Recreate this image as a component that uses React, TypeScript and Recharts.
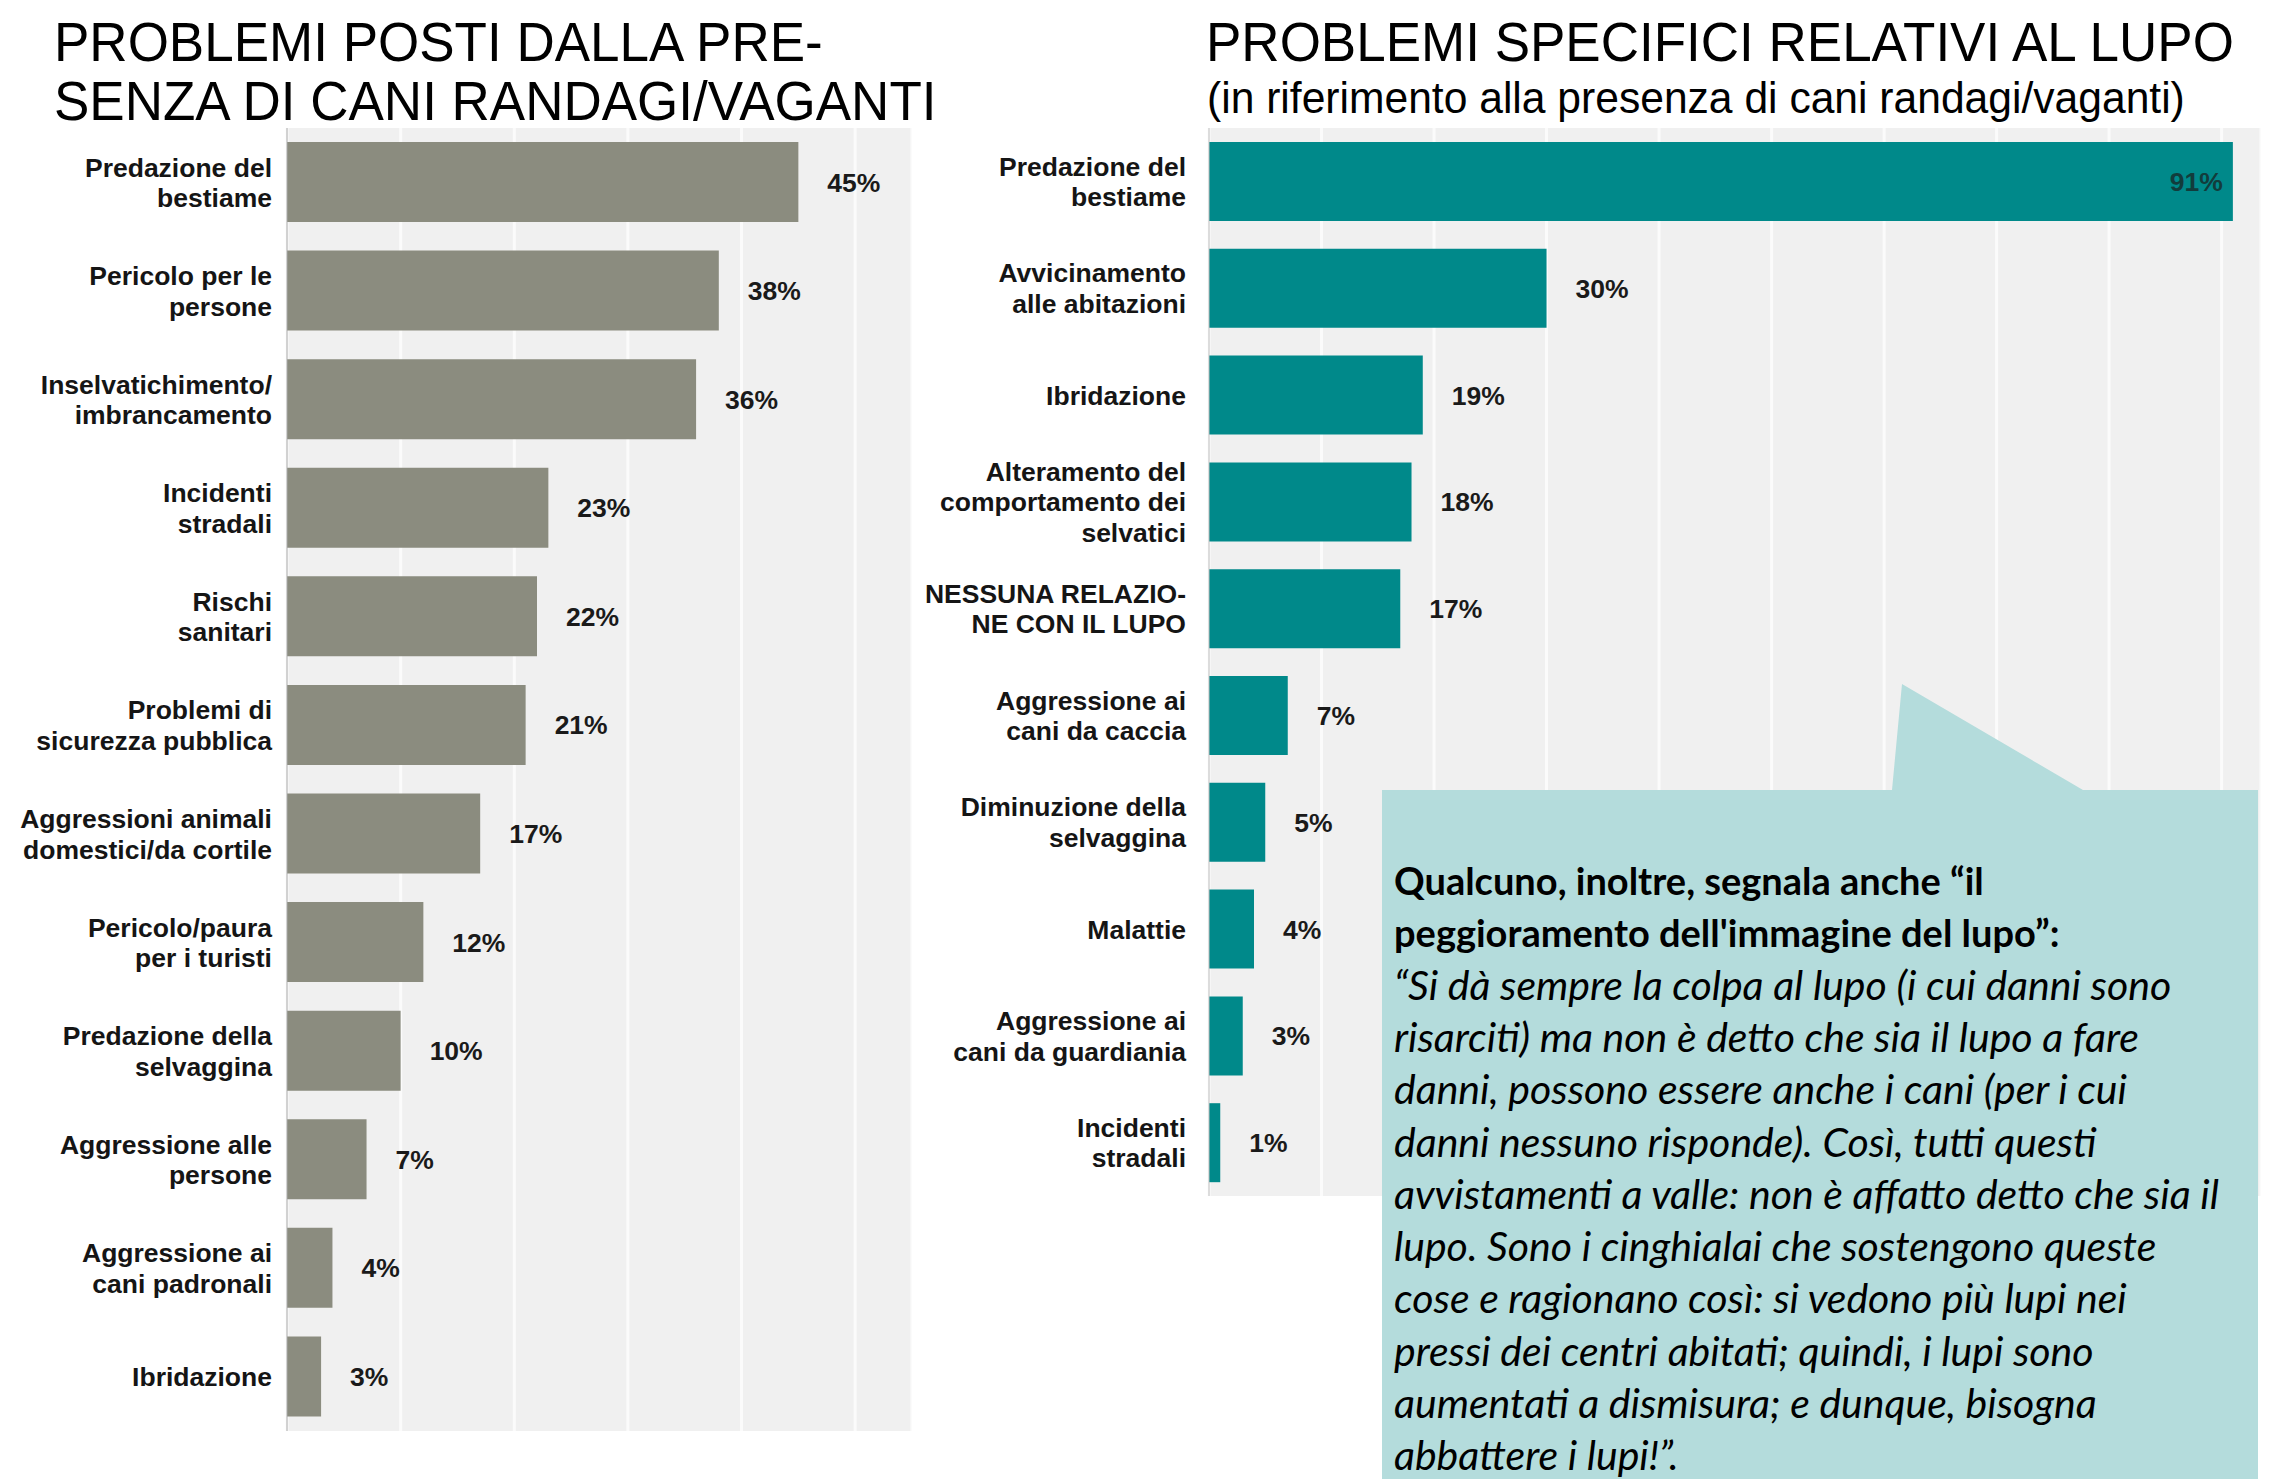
import { BarChart, Bar, XAxis, YAxis, CartesianGrid, LabelList } from 'recharts';

// left chart: problems caused by stray dogs
const leftCategories = [
  'Predazione del\nbestiame',
  'Pericolo per le\npersone',
  'Inselvatichimento/\nimbrancamento',
  'Incidenti\nstradali',
  'Rischi\nsanitari',
  'Problemi di\nsicurezza pubblica',
  'Aggressioni animali\ndomestici/da cortile',
  'Pericolo/paura\nper i turisti',
  'Predazione della\nselvaggina',
  'Aggressione alle\npersone',
  'Aggressione ai\ncani padronali',
  'Ibridazione',
];
const leftValues = [45, 38, 36, 23, 22, 21, 17, 12, 10, 7, 4, 3];
const leftTicks = [10, 20, 30, 40, 50];

// right chart: wolf-specific problems
const rightCategories = [
  'Predazione del\nbestiame',
  'Avvicinamento\nalle abitazioni',
  'Ibridazione',
  'Alteramento del\ncomportamento dei\nselvatici',
  'NESSUNA RELAZIO-\nNE CON IL LUPO',
  'Aggressione ai\ncani da caccia',
  'Diminuzione della\nselvaggina',
  'Malattie',
  'Aggressione ai\ncani da guardiania',
  'Incidenti\nstradali',
];
const rightValues = [91, 30, 19, 18, 17, 7, 5, 4, 3, 1];
const rightTicks = [10, 20, 30, 40, 50, 60, 70, 80, 90];

const calloutBold = [
  'Qualcuno, inoltre, segnala anche \u201cil',
  "peggioramento dell'immagine del lupo\u201d:",
];
const calloutItalic = [
  '\u201cSi dà sempre la colpa al lupo (i cui danni sono',
  'risarciti) ma non è detto che sia il lupo a fare',
  'danni, possono essere anche i cani (per i cui',
  'danni nessuno risponde). Così, tutti questi',
  'avvistamenti a valle: non è affatto detto che sia il',
  'lupo. Sono i cinghialai che sostengono queste',
  'cose e ragionano così: si vedono più lupi nei',
  'pressi dei centri abitati; quindi, i lupi sono',
  'aumentati a dismisura; e dunque, bisogna',
  'abbattere i lupi!\u201d.',
];

const SANS = '"Liberation Sans", Arial, Helvetica, sans-serif';
const CALLOUT_FONT = "Lato, 'Open Sans', sans-serif";
const LABEL_SIZE = 26.5;
const LINE_H = 30.5;
const PLOT_BG = '#f0f0f0';
const GRID_LINE = { stroke: '#fbfbfb', strokeWidth: 3 };

const leftData = leftCategories.map((name, i) => ({ name, value: leftValues[i] }));
const rightData = rightCategories.map((name, i) => ({ name, value: rightValues[i] }));

const makeTick = (labelX: number) => (props: any) => {
  const lines = String(props.payload.value).split('\n');
  const y0 = props.y - ((lines.length - 1) * LINE_H) / 2 + 9.5;
  return (
    <text textAnchor="end" fontFamily={SANS} fontWeight={700} fontSize={LABEL_SIZE} fill="#151515">
      {lines.map((l, i) => (
        <tspan key={i} x={labelX} y={y0 + i * LINE_H}>
          {l}
        </tspan>
      ))}
    </text>
  );
};

const makeValueLabel = (insideAbove: number) => (props: any) => {
  const { x, y, width, height, value } = props;
  const v = Number(value);
  const inside = v > insideAbove;
  return (
    <text
      x={inside ? x + width - 10 : x + width + 29}
      y={y + height / 2 + 9.5}
      textAnchor={inside ? 'end' : 'start'}
      fontFamily={SANS}
      fontWeight={700}
      fontSize={LABEL_SIZE}
      fill={inside ? '#123c3c' : '#1a1a1a'}
    >
      {v}%
    </text>
  );
};

const titleStyle = {
  position: 'absolute' as const,
  top: 13,
  fontSize: 53,
  lineHeight: '56px',
  color: '#000',
  whiteSpace: 'nowrap' as const,
  transform: 'scaleY(1.05)',
  transformOrigin: 'top left',
};

export default function App() {
  return (
    <div
      style={{
        position: 'fixed',
        left: 0,
        top: 0,
        width: 2282,
        height: 1479,
        overflow: 'hidden',
        background: '#ffffff',
        fontFamily: SANS,
      }}
    >
      {/* titles */}
      <div style={{ ...titleStyle, left: 54 }}>
        PROBLEMI POSTI DALLA PRE-
        <br />
        SENZA DI CANI RANDAGI/VAGANTI
      </div>
      <div style={{ ...titleStyle, left: 1206 }}>PROBLEMI SPECIFICI RELATIVI AL LUPO</div>
      <div style={{ ...titleStyle, left: 1207, top: 74, fontSize: 42.6, lineHeight: '45px' }}>
        (in riferimento alla presenza di cani randagi/vaganti)
      </div>

      {/* left chart */}
      <div style={{ position: 'absolute', left: 0, top: 128 }}>
        <BarChart
          width={912}
          height={1303}
          data={leftData}
          layout="vertical"
          margin={{ top: 0, right: 0, bottom: 0, left: 0 }}
        >
          <CartesianGrid horizontal={false} vertical={GRID_LINE} {...GRID_LINE} fill={PLOT_BG} />
          <XAxis type="number" domain={[0, 55]} ticks={leftTicks} hide />
          <YAxis
            type="category"
            dataKey="name"
            width={287}
            interval={0}
            tickLine={false}
            axisLine={{ stroke: '#a8a8a8' }}
            tick={makeTick(272)}
          />
          <Bar dataKey="value" fill="#8b8c7f" barSize={80} isAnimationActive={false}>
            <LabelList dataKey="value" content={makeValueLabel(100)} />
          </Bar>
        </BarChart>
      </div>

      {/* right chart */}
      <div style={{ position: 'absolute', left: 900, top: 128 }}>
        <BarChart
          width={1361}
          height={1068}
          data={rightData}
          layout="vertical"
          margin={{ top: 0, right: 0, bottom: 0, left: 0 }}
        >
          <CartesianGrid horizontal={false} vertical={GRID_LINE} {...GRID_LINE} fill={PLOT_BG} />
          <XAxis type="number" domain={[0, 93.5]} ticks={rightTicks} hide />
          <YAxis
            type="category"
            dataKey="name"
            width={309}
            interval={0}
            tickLine={false}
            axisLine={{ stroke: '#bdbdbd' }}
            tick={makeTick(286)}
          />
          <Bar dataKey="value" fill="#00898a" barSize={79} isAnimationActive={false}>
            <LabelList dataKey="value" content={makeValueLabel(80)} />
          </Bar>
        </BarChart>
      </div>

      {/* callout box */}
      <svg
        width={2282}
        height={1479}
        style={{ position: 'absolute', left: 0, top: 0, pointerEvents: 'none' }}
      >
        <polygon
          points="1382,790 1892,790 1902,684 2083,790 2258,790 2258,1479 1382,1479"
          fill="#b4dcdc"
        />
        {calloutBold.map((l, i) => (
          <text
            key={'b' + i}
            x={1394}
            y={895 + i * 52.3}
            fontFamily={CALLOUT_FONT}
            fontWeight={700}
            fontSize={38}
            fill="#000"
          >
            {l}
          </text>
        ))}
        {calloutItalic.map((l, i) => (
          <text
            key={'i' + i}
            x={1394}
            y={895 + (i + 2) * 52.3}
            fontFamily={CALLOUT_FONT}
            fontStyle="italic"
            fontSize={41}
            fill="#000"
          >
            {l}
          </text>
        ))}
      </svg>
    </div>
  );
}
